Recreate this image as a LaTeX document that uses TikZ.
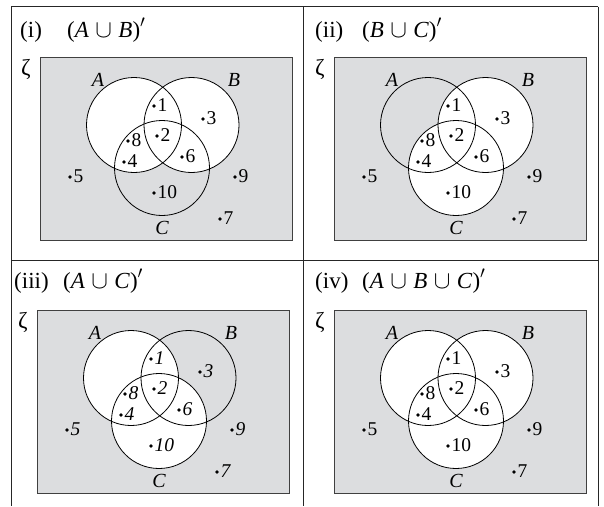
\documentclass[tikz,border=0pt]{standalone}
\usepackage{fontspec}
\setmainfont{Liberation Serif}
\definecolor{panelgray}{RGB}{220,221,223}
\newcommand{\cupsp}{\hspace{0.28em}$\cup$\hspace{0.28em}}
\tikzset{
  frameline/.style={line width=0.9pt, black!85},
  boxline/.style={line width=0.9pt, black!75},
  circline/.style={line width=0.8pt, black},
  titletext/.style={font=\fontsize{23}{23}\selectfont, anchor=base west, inner sep=0},
  setlabel/.style={font=\fontsize{20}{20}\selectfont\itshape, inner sep=0},
  numup/.style={font=\fontsize{19.5}{19.5}\selectfont, anchor=west, inner sep=0},
  numit/.style={font=\fontsize{19.5}{19.5}\selectfont\itshape, anchor=west, inner sep=0},
  zetalabel/.style={font=\fontsize{23}{23}\selectfont, inner sep=0},
  dotmark/.style={circle, fill=black, inner sep=0, minimum size=3.8pt},
}
% #1,#2 origin of the grey box; #3 white circles; #4 number style; #5 name prefix
\newcommand{\vennpanel}[5]{%
\begin{scope}[shift={(#1,#2)}]
  \fill[panelgray] (0,0) rectangle (252,183);
  \coordinate (#5A) at (94,68);
  \coordinate (#5B) at (151.5,68);
  \coordinate (#5C) at (122,111);
  \foreach \c in {#3} {\fill[white] (#5\c) circle (47.5);}
  \draw[boxline] (0,0) rectangle (252,183);
  \foreach \c in {A,B,C} {\draw[circline] (#5\c) circle (47.5);}
  \node[zetalabel] (#5z) at (-14,12) {ζ};
  \node[setlabel] (#5lA) at (58,23) {A};
  \node[setlabel] (#5lB) at (194,23) {B};
  \node[setlabel] (#5lC) at (122,171) {C};
  \foreach \n/\px/\py in {1/114/49, 3/163/62, 8/88/84, 2/117/79, 4/84/105,
      6/142/100, 5/30/120, 9/195/120, 10/114/136, 7/180/162} {
    \node[dotmark] (#5d\n) at (\px,\py) {};
    \node[#4] (#5n\n) at ([xshift=3.5pt,yshift=0.5pt]#5d\n.center) {\n};
  }
\end{scope}}
\begin{document}
\begin{tikzpicture}[x=1pt,y=-1pt]
  \useasboundingbox (0,0) rectangle (604,506);
  % table frame
  \coordinate (tl) at (11,6.5);
  \coordinate (tr) at (598,6.5);
  \coordinate (tm) at (303,6.5);
  \coordinate (bl) at (11,506);
  \coordinate (br) at (598,506);
  \coordinate (bm) at (303,506);
  \coordinate (ml) at (11,260);
  \coordinate (mr) at (598,260);
  \draw[frameline] (tl) -- (tr);
  \draw[frameline] (tl) -- (bl);
  \draw[frameline] (tm) -- (bm);
  \draw[frameline] (tr) -- (br);
  \draw[frameline] (ml) -- (mr);
  % panels
  \vennpanel{40}{57}{A,B}{numup}{p1}
  \vennpanel{334}{57}{B,C}{numup}{p2}
  \vennpanel{37}{310}{A,C}{numit}{p3}
  \vennpanel{334}{310}{A,B,C}{numup}{p4}
  % titles
  \node[titletext] (t1a) at (20,37) {(i)};
  \node[titletext] (t1b) at (67,37) {(\textit{A}\cupsp\textit{B})$'$};
  \node[titletext] (t2a) at (315,37) {(ii)};
  \node[titletext] (t2b) at (362,37) {(\textit{B}\cupsp\textit{C})$'$};
  \node[titletext] (t3a) at (14,288) {(iii)};
  \node[titletext] (t3b) at (63,288) {(\textit{A}\cupsp\textit{C})$'$};
  \node[titletext] (t4a) at (315,288) {(iv)};
  \node[titletext] (t4b) at (362,288) {(\textit{A}\cupsp\textit{B}\cupsp\textit{C})$'$};
\end{tikzpicture}
\end{document}
